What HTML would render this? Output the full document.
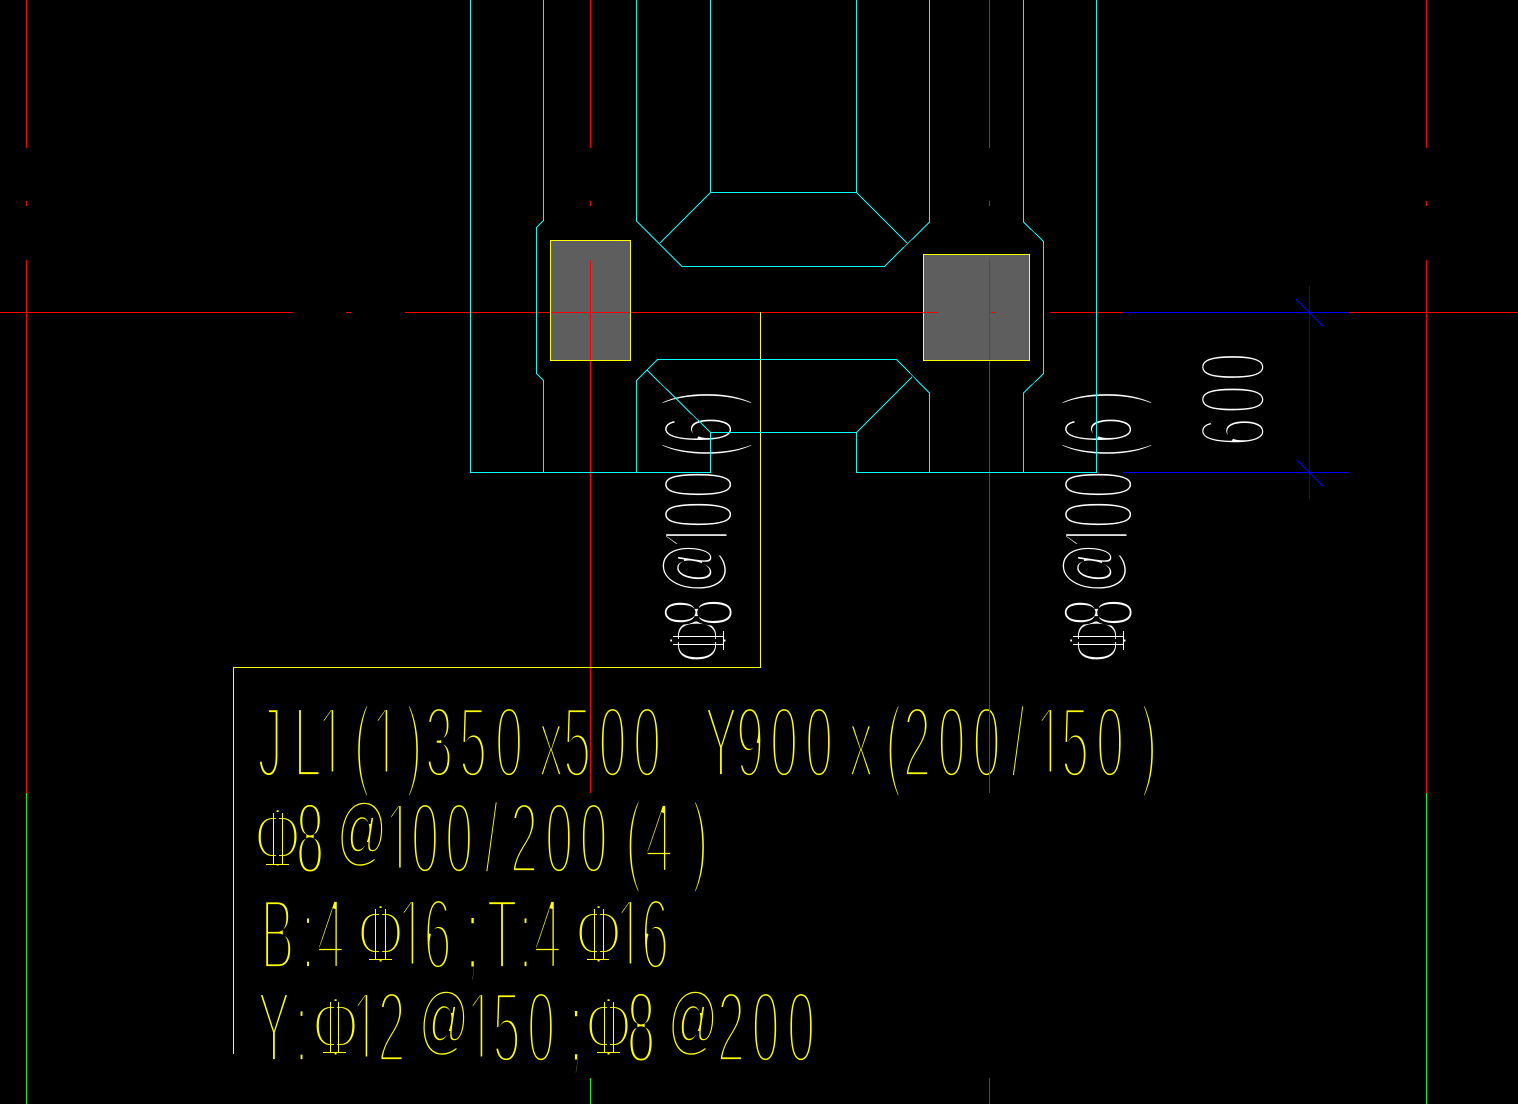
<!DOCTYPE html>
<html><head><meta charset="utf-8"><style>
html,body{margin:0;padding:0;background:#000;width:1518px;height:1104px;overflow:hidden}
svg{display:block}
text{font-family:"Liberation Sans",sans-serif;font-size:101px;text-anchor:middle;stroke:#000;stroke-width:5.8}
.y{fill:#ff0}.w{fill:#fff}
.at{stroke-width:4.5}
.e{stroke-width:4.9}
.six{font-size:94px;stroke-width:5.5}
.l line,.l polyline,.l rect{shape-rendering:crispEdges;fill:none;stroke-width:1}
</style></head><body>
<svg width="1518" height="1104" viewBox="0 0 1518 1104">
<rect width="1518" height="1104" fill="#000"/>
<rect x="550" y="240" width="81" height="121" fill="#5e5e5e"/>
<rect x="923" y="254" width="107" height="107" fill="#5e5e5e"/>

<text class="y" transform="translate(0,867.5) scale(.6,.85)" x="462.5">Φ</text>
<text class="y" transform="translate(0,963.5) scale(.6,.85)" x="634.2 997.5">ΦΦ</text>
<text class="y" transform="translate(0,1056.5) scale(.6,.85)" x="559.2 1014.2">ΦΦ</text>
<text class="w" transform="translate(727.5,0) rotate(-90) scale(.6,.85)" x="-1067.5">Φ</text>
<text class="w" transform="translate(1127.5,0) rotate(-90) scale(.6,.85)" x="-1067.5">Φ</text>

<text class="y" transform="translate(0,777) scale(.5,1)" x="540 615 663 724 771 828 878 946 1018 1102 1154 1225 1294 1442 1500 1568 1638 1722 1787 1834 1903 1973 2036 2099 2150 2220 2298">JL1(1)350x500Y900x(200/150)</text>
<text class="y" transform="translate(0,873) scale(.5,1)" x="798 850 918 983 1048 1118 1187 1267 1318 1400">100/200(4)</text>
<text class="y" transform="translate(0,969) scale(.5,1)" x="555 616 661 823 875 1004 1051 1095 1259 1310">B:416T:416</text>
<text class="y" transform="translate(0,1062) scale(.5,1)" x="548 603 731 783 961 1013 1082 1462 1531 1602">Y:12150200</text>
<text class="y e" transform="translate(0,873) scale(.5,1)" x="620">8</text>
<text class="y e" transform="translate(0,1062) scale(.5,1)" x="1282">8</text>
<text class="y e" transform="translate(0,969) scale(.5,1)" x="945">;</text>
<text class="y e" transform="translate(0,1062) scale(.5,1)" x="1152">;</text>
<text class="y at" transform="translate(0,857) scale(.5,.76)" x="724">@</text>
<text class="y at" transform="translate(0,1046) scale(.5,.76)" x="888 1386">@@</text>

<text class="w" transform="translate(733,0) rotate(-90) scale(.5,1)" x="-1072 -1029 -969 -900 -860 -796">100(6)</text>
<text class="w" transform="translate(1133,0) rotate(-90) scale(.5,1)" x="-1072 -1029 -969 -900 -860 -796">100(6)</text>
<text class="w at" transform="translate(717,0) rotate(-90) scale(.5,.76)" x="-1136">@</text>
<text class="w at" transform="translate(1117,0) rotate(-90) scale(.5,.76)" x="-1136">@</text>
<text class="w e" transform="translate(733,0) rotate(-90) scale(.5,1)" x="-1225">8</text>
<text class="w e" transform="translate(1133,0) rotate(-90) scale(.5,1)" x="-1225">8</text>
<text class="w six" transform="translate(1265,0) rotate(-90) scale(.55,1)" x="-785.5 -726.4 -667.3">600</text>

<g class="l">
<path style="fill:#000" shape-rendering="crispEdges" d="M276 812h3v53h-3zM379 908h3v52h-3zM597 908h3v52h-3zM334 1001h3v52h-3zM607 1001h3v52h-3zM672 639h52v3h-52zM1072 639h52v3h-52z"/>
<path style="fill:#000" shape-rendering="crispEdges" d="M320 771.5h24v6h-24zM374 771.5h24v6h-24zM1038 771.5h24v6h-24zM387 867.5h24v6h-24zM400 963.5h24v6h-24zM618 963.5h24v6h-24zM354 1056.5h24v6h-24zM469 1056.5h24v6h-24zM726.5 525h7v22h-7zM1126.5 525h7v22h-7z"/>
<g stroke="#ff0">
<path d="M273.5 813V864M282.5 813V864M266 864.5H289M375.5 909V959M385.5 909V959M369 959.5H392M594.5 909V959M603.5 909V959M587 959.5H609M330.5 1002V1052M338.5 1002V1052M323 1052.5H346M604.5 1002V1052M613.5 1002V1052M597 1052.5H620" fill="none" shape-rendering="crispEdges"/>
</g>
<g stroke="#fff">
<path d="M673 636.5H723M673 644.5H723M723.5 631V650M1073 636.5H1123M1073 644.5H1123M1123.5 631V650" fill="none" shape-rendering="crispEdges"/>
</g>

<!-- red axes -->
<g stroke="#f00">
<line x1="26.5" y1="0" x2="26.5" y2="148"/><line x1="26.5" y1="201" x2="26.5" y2="206"/><line x1="26.5" y1="260" x2="26.5" y2="793"/>
<line x1="1426.5" y1="0" x2="1426.5" y2="148"/><line x1="1426.5" y1="201" x2="1426.5" y2="206"/><line x1="1426.5" y1="260" x2="1426.5" y2="793"/>
<line x1="590.5" y1="0" x2="590.5" y2="148"/><line x1="590.5" y1="201" x2="590.5" y2="206"/><line x1="590.5" y1="260" x2="590.5" y2="793"/>
<line x1="989.5" y1="0" x2="989.5" y2="148"/><line x1="989.5" y1="201" x2="989.5" y2="206"/><line x1="989.5" y1="260" x2="989.5" y2="793"/><line x1="989.5" y1="1078" x2="989.5" y2="1104"/>
<line x1="0" y1="312.5" x2="293" y2="312.5"/><line x1="346" y1="312.5" x2="351" y2="312.5"/><line x1="405" y1="312.5" x2="938" y2="312.5"/><line x1="991" y1="312.5" x2="996" y2="312.5"/><line x1="1050" y1="312.5" x2="1123" y2="312.5"/><line x1="1349" y1="312.5" x2="1518" y2="312.5"/>
</g>
<!-- green -->
<g stroke="#0f0">
<line x1="26.5" y1="793" x2="26.5" y2="1104"/><line x1="1426.5" y1="793" x2="1426.5" y2="1104"/><line x1="590.5" y1="1078" x2="590.5" y2="1104"/>
</g>
<!-- blue -->
<g stroke="#00f">
<line x1="1123" y1="312.5" x2="1349" y2="312.5"/><line x1="1123" y1="472.5" x2="1349" y2="472.5"/>
<line x1="1309.5" y1="286" x2="1309.5" y2="499"/>
<line x1="1296" y1="299" x2="1323" y2="326"/><line x1="1297" y1="460" x2="1323" y2="486"/>
</g>
<!-- yellow -->
<g stroke="#ff0">
<rect x="550.5" y="240.5" width="80" height="120"/>
<rect x="923.5" y="254.5" width="106" height="106"/>
<polyline points="760.5,312 760.5,667.5 233.5,667.5 233.5,1054"/>
</g>
<!-- cyan -->
<g stroke="#0ff">
<polyline points="470.5,0 470.5,472.5 710.5,472.5 710.5,432.5 856.5,432.5 856.5,472.5 1096.5,472.5 1096.5,0"/>
<polyline points="710.5,0 710.5,192.5 856.5,192.5 856.5,0"/>
<line x1="710.5" y1="192.5" x2="660" y2="243"/>
<line x1="856.5" y1="192.5" x2="907" y2="243"/>
<polyline points="636.5,0 636.5,221 682,266.5 884.5,266.5 929.5,222 929.5,0"/>
<polyline points="543.5,0 543.5,220.5 536.5,227.5 536.5,373.5 543.5,380.5 543.5,472"/>
<polyline points="636.5,472 636.5,380.5 657.5,359.5 896.5,359.5 929.5,393 929.5,472"/>
<line x1="647" y1="370" x2="710.5" y2="432.5"/>
<line x1="856.5" y1="432.5" x2="912" y2="377"/>
<polyline points="1023.5,0 1023.5,222 1043.5,241.5 1043.5,373.5 1023.5,393 1023.5,472"/>
</g>
</g>
</svg>
</body></html>
